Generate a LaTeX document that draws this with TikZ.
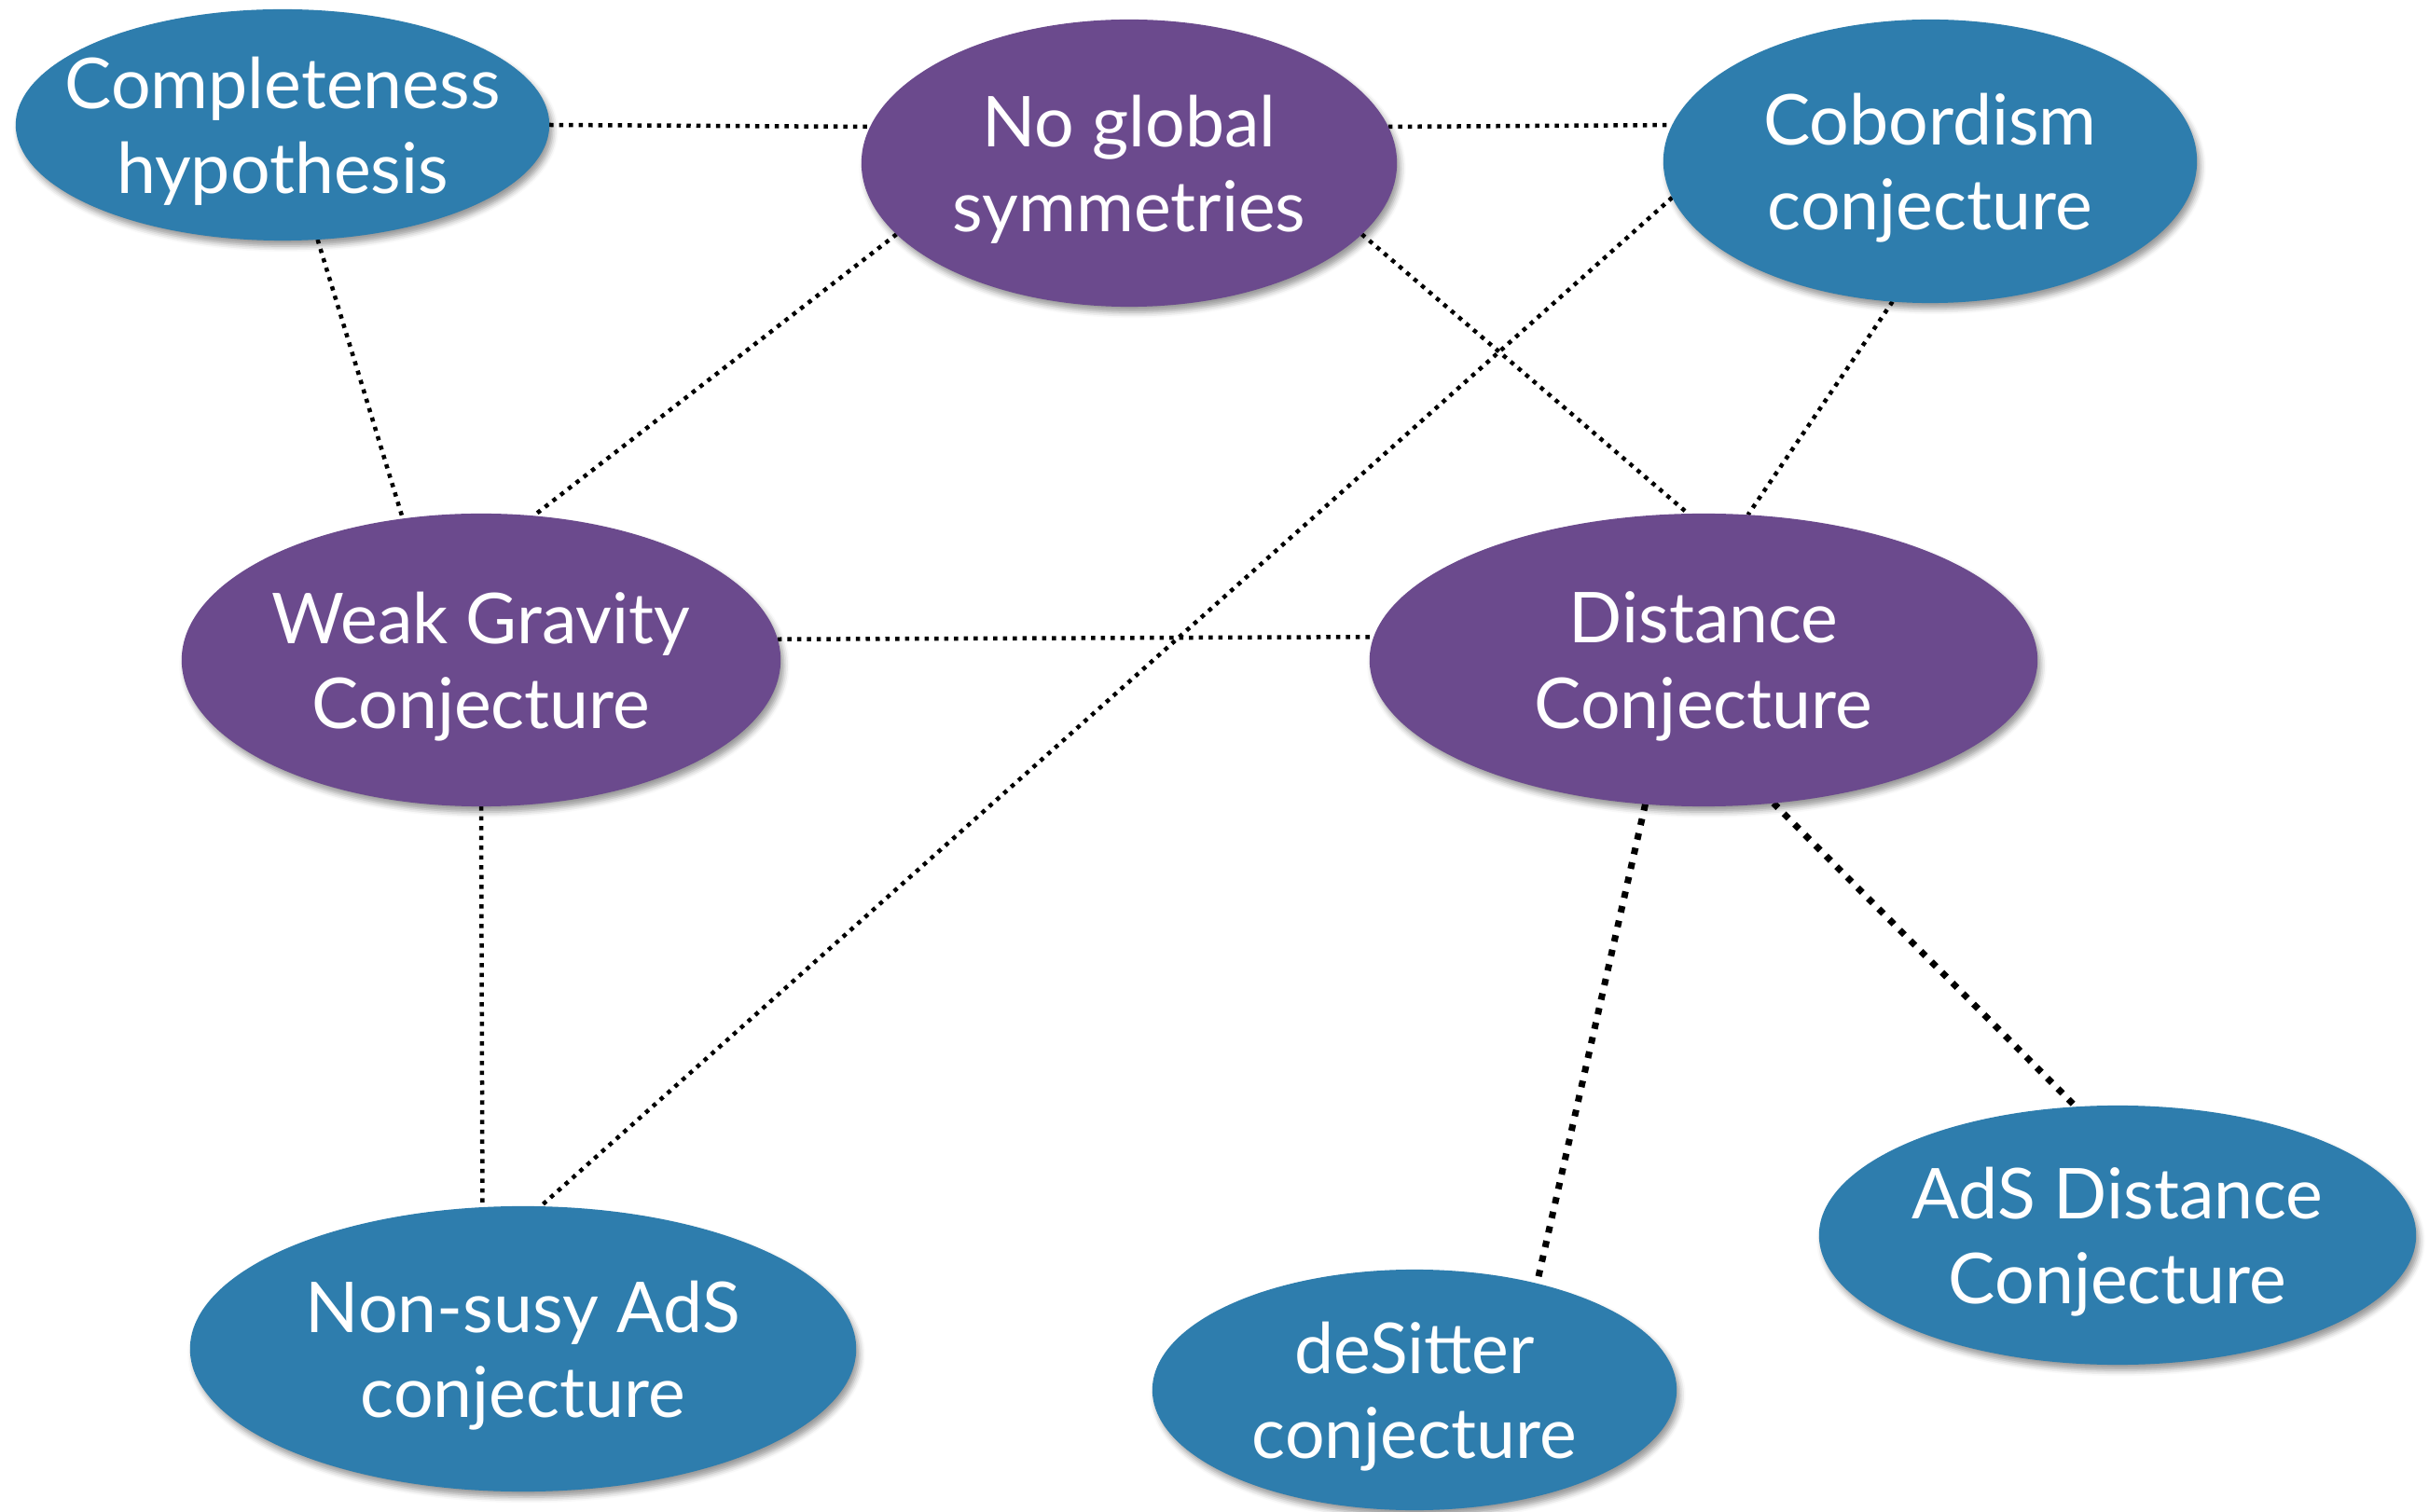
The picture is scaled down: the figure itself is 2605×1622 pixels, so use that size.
\documentclass[tikz,border=0pt]{standalone}
\usepackage{fontspec}
\setmainfont{Lato}
\usetikzlibrary{shapes.geometric,shadows.blur}
\definecolor{cblue}{RGB}{46,125,173}
\definecolor{cpurp}{RGB}{107,74,141}
\pgfdeclarelayer{background}
\pgfsetlayers{background,main}
\begin{document}
\begin{tikzpicture}[x=0.01cm,y=-0.01cm,
  blob/.style={ellipse, inner sep=0pt, outer sep=0pt, draw=none,
    blur shadow={shadow xshift=0.035cm, shadow yshift=-0.06cm, shadow blur radius=0.06cm}},
  bluebl/.style={blob, fill=cblue},
  purpbl/.style={blob, fill=cpurp},
  txt/.style={text=white, align=center, font=\fontsize{21.4}{26}\selectfont, inner sep=0pt, yshift=-0.07cm},
  linkA/.style={line width=0.045cm, dash pattern=on 0.045cm off 0.06cm},
  linkB/.style={line width=0.07cm, dash pattern=on 0.07cm off 0.09cm}]
\useasboundingbox (0,0) rectangle (2605,1622);

\node[bluebl, minimum width=5.72cm, minimum height=2.48cm] (cmp) at (303,134) {};
\node[purpbl, minimum width=5.74cm, minimum height=3.08cm] (ngs) at (1211,175) {};
\node[bluebl, minimum width=5.72cm, minimum height=3.04cm] (cob) at (2070,173) {};
\node[purpbl, minimum width=6.42cm, minimum height=3.14cm] (wgc) at (516,708) {};
\node[purpbl, minimum width=7.16cm, minimum height=3.14cm] (dst) at (1827,708) {};
\node[bluebl, minimum width=7.14cm, minimum height=3.06cm] (nsa) at (561,1447) {};
\node[bluebl, minimum width=5.62cm, minimum height=2.58cm] (dsc) at (1517,1491) {};
\node[bluebl, minimum width=6.40cm, minimum height=2.78cm] (ads) at (2271,1325) {};

\node[txt] (cmpt) at (cmp.center) {Completeness\\hypothesis};
\node[txt] (ngst) at (ngs.center) {No global\\symmetries};
\node[txt] (cobt) at (cob.center) {Cobordism\\conjecture};
\node[txt] (wgct) at (wgc.center) {Weak Gravity\\Conjecture};
\node[txt] (dstt) at (dst.center) {Distance\\Conjecture};
\node[txt] (nsat) at (nsa.center) {Non-susy AdS\\conjecture};
\node[txt] (dsct) at (dsc.center) {deSitter\\conjecture};
\node[txt] (adst) at (ads.center) {AdS Distance\\Conjecture};

\begin{pgfonlayer}{background}
\draw[linkA] (cmp.0) -- (ngs.172);
\draw[linkA] (ngs.8) -- (cob.172.4);
\draw[linkA] (cmp.-73) -- (wgc.119);
\draw[linkA] (ngs.197.7) -- (wgc.70);
\draw[linkA] (ngs.-17.3) -- (dst.96);
\draw[linkA] (cob.188.2) -- (nsa.83);
\draw[linkA] (cob.-105.7) -- (dst.73.6);
\draw[linkA] (wgc.4) -- (dst.176.4);
\draw[linkA] (wgc.-90) -- (nsa.106);
\draw[linkB] (dst.-112.5) -- (dsc.41.3);
\draw[linkB] (dst.-64.3) -- (ads.108.9);
\end{pgfonlayer}
\end{tikzpicture}
\end{document}
